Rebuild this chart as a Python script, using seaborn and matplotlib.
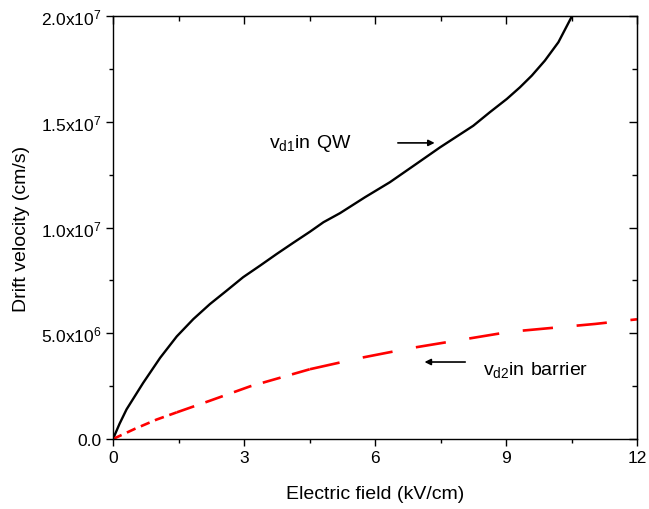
import matplotlib
matplotlib.use("Agg")
import matplotlib.pyplot as plt
import seaborn as sns
import pandas as pd
from matplotlib.ticker import FixedLocator, MultipleLocator

# Data
field_qw = [0.0, 0.15, 0.31, 0.69, 1.08, 1.46, 1.84, 2.22, 2.6, 2.98, 3.37, 3.75, 4.13, 4.51, 4.82,
            5.2, 5.77, 6.34, 6.92, 7.49, 7.87, 8.25, 8.63, 9.02, 9.32, 9.59, 9.89, 10.2, 10.5]
vel_qw = [0.0, 0.72e6, 1.4e6, 2.65e6, 3.84e6, 4.85e6, 5.67e6, 6.38e6, 7.01e6, 7.65e6, 8.2e6, 8.75e6,
          9.28e6, 9.8e6, 10.25e6, 10.68e6, 11.43e6, 12.14e6, 12.97e6, 13.79e6, 14.3e6, 14.81e6,
          15.45e6, 16.08e6, 16.63e6, 17.18e6, 17.89e6, 18.76e6, 19.95e6]
field_bar = [0.0, 0.5, 1.0, 1.46, 2.22, 3.14, 4.51, 5.66, 6.8, 9.09, 11.04, 12.0]
vel_bar = [0.0, 0.48e6, 0.92e6, 1.26e6, 1.81e6, 2.49e6, 3.3e6, 3.83e6, 4.29e6, 5.07e6, 5.44e6, 5.66e6]

x_ticks = [0, 3, 6, 9, 12]
x_labels = ["0", "3", "6", "9", "12"]
y_ticks = [0, 5e6, 1e7, 1.5e7, 2e7]
y_labels = ["0.0", r"$\mathregular{5.0x10^{6}}$", r"$\mathregular{1.0x10^{7}}$",
            r"$\mathregular{1.5x10^{7}}$", r"$\mathregular{2.0x10^{7}}$"]

sns.set_style("white")
plt.rcParams["font.family"] = ["Liberation Sans", "DejaVu Sans"]
plt.rcParams["mathtext.fontset"] = "custom"
plt.rcParams["mathtext.rm"] = "Liberation Sans"
plt.rcParams["text.color"] = "black"
plt.rcParams["axes.labelcolor"] = "black"

fig = plt.figure(figsize=(6.49, 5.10), dpi=100)
ax = fig.add_axes([113 / 649, 1 - 440 / 510, 524 / 649, 423 / 510])

df_qw = pd.DataFrame({"E": field_qw, "v": vel_qw})
df_bar = pd.DataFrame({"E": field_bar, "v": vel_bar})
sns.lineplot(data=df_qw, x="E", y="v", ax=ax, color="black", lw=1.7, sort=False, estimator=None)

# Red dashed curve: dash length grows with field (as in the original rendering)
segments = [(0.0, 1.46, (3.6, 2.2)), (1.46, 4.51, (7.0, 4.5)), (4.51, 12.0, (11.5, 9.0))]
for lo, hi, dash in segments:
    sub = df_bar[(df_bar["E"] >= lo) & (df_bar["E"] <= hi)]
    sns.lineplot(data=sub, x="E", y="v", ax=ax, color="red", lw=1.9, sort=False, estimator=None)
    ax.lines[-1].set_dashes(dash)

ax.set_xlim(0, 12)
ax.set_ylim(0, 2e7)
ax.set(xlabel=None, ylabel=None)
ax.xaxis.set_major_locator(FixedLocator(x_ticks))
ax.set_xticklabels(x_labels)
ax.yaxis.set_major_locator(FixedLocator(y_ticks))
ax.set_yticklabels(y_labels)
ax.xaxis.set_minor_locator(MultipleLocator(1.5))
ax.yaxis.set_minor_locator(MultipleLocator(2.5e6))

for s in ax.spines.values():
    s.set_color("black")
    s.set_linewidth(1.0)

ax.tick_params(axis="both", which="both", bottom=True, left=True, top=False, right=False,
               direction="out", color="black", width=1.0, labelsize=12.5, labelcolor="black")
ax.tick_params(which="major", length=5, pad=3)
ax.tick_params(which="minor", length=3)

# Inward ticks on top and right
axt = ax.secondary_xaxis("top")
axt.xaxis.set_major_locator(FixedLocator(x_ticks))
axt.xaxis.set_minor_locator(MultipleLocator(1.5))
axt.tick_params(which="both", direction="in", labeltop=False, width=1.0, color="black")
axt.tick_params(which="major", length=6)
axt.tick_params(which="minor", length=3.5)
axr = ax.secondary_yaxis("right")
axr.yaxis.set_major_locator(FixedLocator(y_ticks))
axr.yaxis.set_minor_locator(MultipleLocator(2.5e6))
axr.tick_params(which="both", direction="in", labelright=False, width=1.0, color="black")
axr.tick_params(which="major", length=6)
axr.tick_params(which="minor", length=3.5)

ax.set_xlabel("Electric field (kV/cm)", fontsize=14, labelpad=14)
ax.set_ylabel("Drift velocity (cm/s)", fontsize=14, labelpad=8)

ax.text(3.57, 13.79e6, r"$\mathregular{v_{d1}in\ QW}$", fontsize=14, va="baseline", ha="left")
ax.annotate("", xy=(7.43, 14.0e6), xytext=(6.46, 14.0e6),
            arrowprops=dict(arrowstyle="-|>", color="black", lw=1.2, mutation_scale=9))
ax.text(8.47, 3.07e6, r"$\mathregular{v_{d2}in\ barrier}$", fontsize=14, va="baseline", ha="left")
ax.annotate("", xy=(7.07, 3.64e6), xytext=(8.13, 3.64e6),
            arrowprops=dict(arrowstyle="-|>", color="black", lw=1.2, mutation_scale=9))

fig.savefig("out.png", dpi=100)
